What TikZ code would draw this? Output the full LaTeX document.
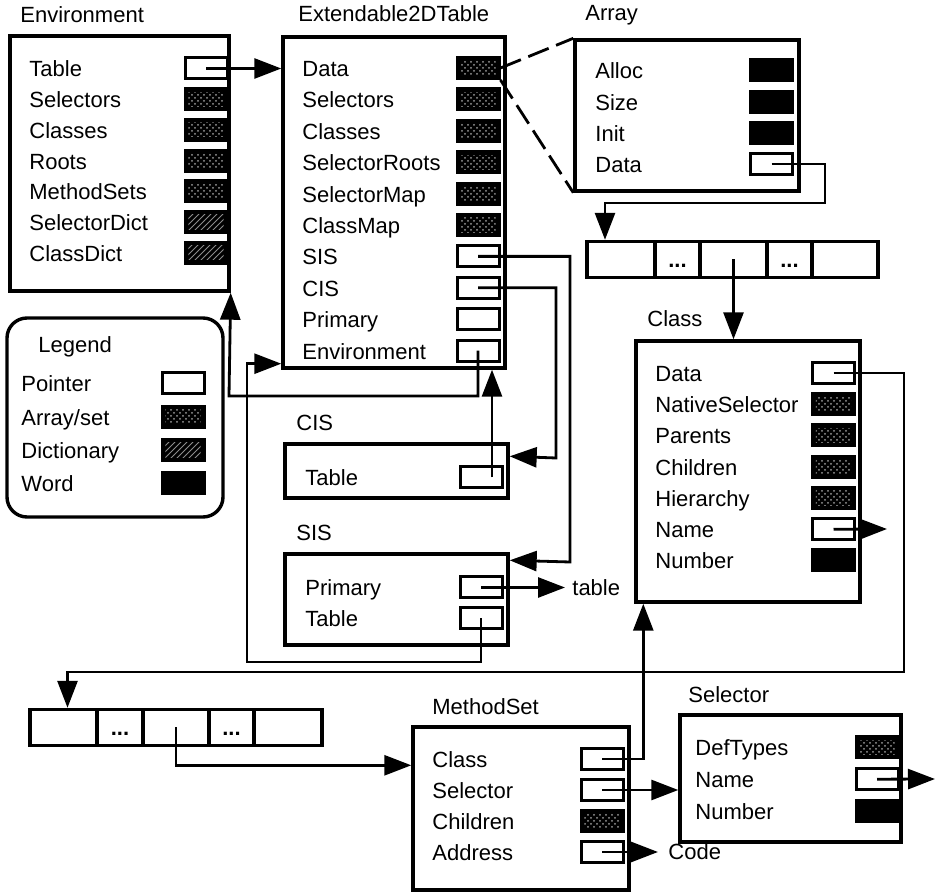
\documentclass[tikz,border=0pt]{standalone}
\usepackage{fontspec}
\setmainfont{Liberation Sans}
\usepackage{tikz}
\usetikzlibrary{arrows.meta, fit, patterns}

\newcommand\elide{...}

\tikzset{
  box/.style={draw, line width=1.7pt, inner sep=0pt},
  fld/.style={draw, line width=1.5pt, minimum width=21pt, minimum height=10.5pt, inner sep=0pt},
  ptr/.style={fld, fill=white},
  arr/.style={fld, fill=black, path picture={\fill[pattern=crosshatch dots, pattern color=white!60!black]
      ([shift={(1.7pt,-1.7pt)}]path picture bounding box.north west) rectangle
      ([shift={(-1.7pt,1.7pt)}]path picture bounding box.south east);}},
  dict/.style={fld, fill=black, path picture={\fill[pattern=north east lines, pattern color=black!45]
      ([shift={(1.7pt,-1.7pt)}]path picture bounding box.north west) rectangle
      ([shift={(-1.7pt,1.7pt)}]path picture bounding box.south east);}},
  word/.style={fld, fill=black},
  lbl/.style={anchor=base west, inner sep=0pt},
  conn/.style={line width=1.4pt},
  cell/.style={draw, line width=1.7pt, minimum height=18pt, inner sep=0pt,
    text height=8pt, text depth=0pt, font=\bfseries\fontsize{11pt}{13pt}\selectfont}
}

\begin{document}
\begin{tikzpicture}[x=0.5pt, y=-0.5pt, >={Triangle[length=13.5pt,width=10pt]},
  font=\fontsize{11pt}{13pt}\selectfont]
  \useasboundingbox (0,0) rectangle (939,893);

  % Environment
  \node[lbl] (envT) at (20,23) {Environment};
  \node[box, fit={(10,36) (229,291)}] (env) {};
  \foreach \lab/\typ [count=\i] in {Table/ptr, Selectors/arr, Classes/arr, Roots/arr,
      MethodSets/arr, SelectorDict/dict, ClassDict/dict} {
    \pgfmathsetmacro\yy{68.5+30.7*(\i-1)}
    \node[lbl] (env-\i) at (29,\yy+8.5) {\lab};
    \node[\typ] (envf\i) at (206,\yy) {};
  }

  % Extendable2DTable
  \node[lbl] (extT) at (298,22) {Extendable2DTable};
  \node[box, fit={(283,37) (505,368)}] (ext) {};
  \foreach \lab/\typ [count=\i] in {Data/arr, Selectors/arr, Classes/arr, SelectorRoots/arr,
      SelectorMap/arr, ClassMap/arr, SIS/ptr, CIS/ptr, Primary/ptr, Environment/ptr} {
    \pgfmathsetmacro\yy{68+31.4*(\i-1)}
    \node[lbl] (ext-\i) at (302,\yy+8.5) {\lab};
    \node[\typ] (extf\i) at (478,\yy) {};
  }

  % Array
  \node[lbl] (arrT) at (585,21) {Array};
  \node[box, fit={(575,40) (799,191)}] (array) {};
  \foreach \lab/\typ [count=\i] in {Alloc/word, Size/word, Init/word, Data/ptr} {
    \pgfmathsetmacro\yy{70.5+31.2*(\i-1)}
    \node[lbl] (arr-\i) at (595,\yy+8.5) {\lab};
    \node[\typ] (arrf\i) at (771.5,\yy) {};
  }

  % array strips
  \foreach \cx/\w/\s [count=\i] in {621/34pt/{}, 677.5/22.5pt/\elide, 733.5/33.5pt/{},
      789.5/22.5pt/\elide, 845/33pt/{}}
    \node[cell, minimum width=\w] (top\i) at (\cx,259.5) {\s};
  \foreach \cx/\w/\s [count=\i] in {63.5/33.5pt/{}, 120/23pt/\elide, 176/33pt/{},
      231.5/22.5pt/\elide, 288/34pt/{}}
    \node[cell, minimum width=\w] (bot\i) at (\cx,727.5) {\s};

  % Class
  \node[lbl] (clsT) at (647,327) {Class};
  \node[box, fit={(636,341) (860,602)}] (cls) {};
  \foreach \lab/\typ [count=\i] in {Data/ptr, NativeSelector/arr, Parents/arr, Children/arr,
      Hierarchy/arr, Name/ptr, Number/word} {
    \pgfmathsetmacro\yy{373+31.25*(\i-1)}
    \node[lbl] (cls-\i) at (655,\yy+8.5) {\lab};
    \node[\typ] (clsf\i) at (833.5,\yy) {};
  }

  % Legend
  \node[draw, line width=1.7pt, rounded corners=10pt, inner sep=0pt,
    fit={(7,318) (223,517)}] (leg) {};
  \node[lbl] (legT) at (38,353) {Legend};
  \foreach \lab/\typ [count=\i] in {Pointer/ptr, {Array/set}/arr, Dictionary/dict, Word/word} {
    \pgfmathsetmacro\yy{383.5+33.3*(\i-1)}
    \node[lbl] (leg-\i) at (21,\yy+8.5) {\lab};
    \node[\typ] (legf\i) at (183,\yy) {};
  }

  % CIS and SIS
  \node[lbl] (cisT) at (296,431) {CIS};
  \node[box, fit={(285,444) (508,498)}] (cis) {};
  \node[lbl] (cis-1) at (305,486) {Table};
  \node[ptr] (cisf1) at (481,477.5) {};
  \node[lbl] (sisT) at (296,541) {SIS};
  \node[box, fit={(285,554) (508,645)}] (sis) {};
  \node[lbl] (sis-1) at (305,596) {Primary};
  \node[ptr] (sisf1) at (481,587.5) {};
  \node[lbl] (sis-2) at (305,627) {Table};
  \node[ptr] (sisf2) at (481,618.5) {};
  \node[anchor=west, inner xsep=3.5pt, inner ysep=0pt] (tbl) at (565,587.5) {table};

  % MethodSet
  \node[lbl] (msT) at (432,715) {MethodSet};
  \node[box, fit={(413,727) (629,890)}] (ms) {};
  \foreach \lab/\typ [count=\i] in {Class/ptr, Selector/ptr, Children/arr, Address/ptr} {
    \pgfmathsetmacro\yy{759+31*(\i-1)}
    \node[lbl] (ms-\i) at (432,\yy+8.5) {\lab};
    \node[\typ] (msf\i) at (602,\yy) {};
  }
  \node[anchor=west, inner xsep=5pt, inner ysep=0pt] (code) at (658,852) {Code};

  % Selector
  \node[lbl] (selT) at (688,703) {Selector};
  \node[box, fit={(680,715) (901,842)}] (sel) {};
  \foreach \lab/\typ [count=\i] in {DefTypes/arr, Name/ptr, Number/word} {
    \pgfmathsetmacro\yy{747.5+31.7*(\i-1)}
    \node[lbl] (sel-\i) at (695,\yy+8.5) {\lab};
    \node[\typ] (self\i) at (877,\yy) {};
  }

  \coordinate (clsname) at (887,529);
  \coordinate (selname) at (935,779);
  \coordinate (cisup) at ([xshift=5.5pt]cisf1.center);

  % pointers
  \draw[conn,->] (envf1.center) -- (ext.west |- envf1.center);
  \draw[line width=1.4pt, dash pattern=on 11pt off 4pt] (extf1.east) -- (array.north west);
  \draw[line width=1.4pt, dash pattern=on 11pt off 4pt] (extf1.south east) -- (array.south west);
  \draw[conn,->] (arrf4.center) -| (825,203) -| ([xshift=-8pt]top1.north);
  \draw[conn,->] (top3.center) -- (top3.center |- cls.north);
  \draw[conn,->] (extf7.center) -| (570,562) -- ([yshift=-4pt]sis.north east);
  \draw[conn,->] (extf8.center) -| (556,458) -- ([yshift=-7pt]cis.north east);
  \draw[conn,->] (extf10.center) |- (229,396) -- (env.south east);
  \draw[conn,->] (cisup) -- (cisup |- ext.south);
  \draw[conn,->] (sisf1.center) -- (tbl.west);
  \draw[conn,->] (sisf2.center) |- (247,662) |- ([yshift=3pt]ext.south west);
  \draw[conn,->] (clsf1.center) -| (904,672) -| ([xshift=2pt]bot1.north);
  \draw[conn,->] (clsf6.center) -- (clsname);
  \draw[conn,->] (bot3.center) |- ([yshift=-20pt]ms.north west);
  \draw[conn,->] (msf1.center) -| ([xshift=4.5pt]cls.south west);
  \draw[conn,->] (msf2.center) -- (sel.west |- msf2.center);
  \draw[conn,->] (msf4.center) -- (code.west);
  \draw[conn,->] (self2.center) -- (selname);
\end{tikzpicture}
\end{document}
